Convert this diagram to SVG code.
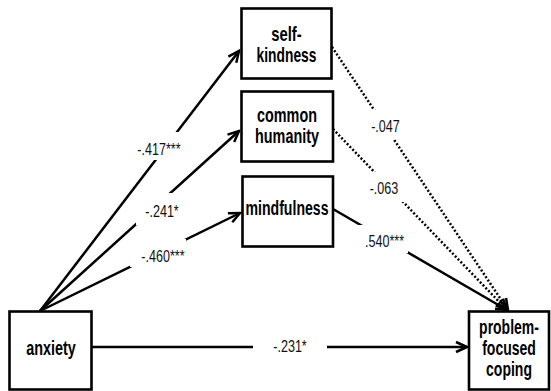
<svg xmlns="http://www.w3.org/2000/svg" width="551" height="391" viewBox="0 0 551 391">
<style>
.box{fill:#fff;stroke:#000;stroke-width:2.6}
.nt{font-family:"Liberation Sans",Arial,sans-serif;font-weight:bold;font-size:20px;fill:#000;text-anchor:middle}
.ln{fill:none;stroke:#000;stroke-width:2.5}
.dot{stroke-dasharray:2 2}
.lbl{font-family:"Liberation Sans",Arial,sans-serif;font-size:17px;fill:#111;text-anchor:middle}
.bg{fill:#fff}
</style>
<defs>
<marker id="arr" viewBox="-14 -8 16 16" markerWidth="16" markerHeight="16" refX="0" refY="0" orient="auto" markerUnits="userSpaceOnUse">
<path d="M-11,-5 L0,0 L-11,5" fill="none" stroke="#000" stroke-width="2.5"/>
</marker>
</defs>
<rect width="551" height="391" fill="#fff"/>
<g id="connectors">
<g id="e-anx-sk">
<line class="ln" x1="40" y1="311" x2="239" y2="51" marker-end="url(#arr)"/>
<rect class="bg" x="135" y="132" width="48" height="28"/>
<text class="lbl" transform="translate(159,154.5) scale(0.74,1)">-.417***</text>
</g>
<g id="e-anx-ch">
<line class="ln" x1="40" y1="311" x2="239" y2="131" marker-end="url(#arr)"/>
<rect class="bg" x="136" y="193" width="50" height="32"/>
<text class="lbl" transform="translate(162,216.5) scale(0.74,1)">-.241*</text>
</g>
<g id="e-anx-mf">
<line class="ln" x1="40" y1="311" x2="240" y2="213" marker-end="url(#arr)"/>
<rect class="bg" x="130" y="239" width="56" height="28"/>
<text class="lbl" transform="translate(163,261.5) scale(0.74,1)">-.460***</text>
</g>
<g id="e-sk-pfc">
<line class="ln dot" x1="332" y1="47" x2="508" y2="310" marker-end="url(#arr)"/>
<rect class="bg" x="368" y="110" width="34" height="29"/>
<text class="lbl" transform="translate(385.5,131.5) scale(0.74,1)">-.047</text>
</g>
<g id="e-ch-pfc">
<line class="ln dot" x1="333" y1="129" x2="507" y2="310" marker-end="url(#arr)"/>
<rect class="bg" x="366" y="172" width="40" height="30"/>
<text class="lbl" transform="translate(384,194) scale(0.74,1)">-.063</text>
</g>
<g id="e-mf-pfc">
<line class="ln" x1="333" y1="209" x2="507" y2="310" marker-end="url(#arr)"/>
<rect class="bg" x="358" y="225" width="50" height="28"/>
<text class="lbl" transform="translate(384.5,247) scale(0.74,1)">.540***</text>
</g>
<g id="e-anx-pfc">
<line class="ln" x1="92" y1="347" x2="467" y2="347" marker-end="url(#arr)"/>
<rect class="bg" x="253" y="335" width="74" height="23"/>
<text class="lbl" transform="translate(290,351.5) scale(0.74,1)">-.231*</text>
</g>
</g>
<g id="self-kindness">
<rect class="box" x="241.5" y="8.5" width="90" height="70"/>
<text class="nt" transform="translate(286.5,40.5) scale(0.74,1)">self-</text>
<text class="nt" transform="translate(286.5,61.5) scale(0.69,1)">kindness</text>
</g>
<g id="common-humanity">
<rect class="box" x="241.5" y="91.5" width="91.5" height="70"/>
<text class="nt" transform="translate(287,121.5) scale(0.72,1)">common</text>
<text class="nt" transform="translate(287,143) scale(0.72,1)">humanity</text>
</g>
<g id="mindfulness">
<rect class="box" x="242.5" y="176.5" width="90.5" height="70"/>
<text class="nt" transform="translate(287,214.5) scale(0.705,1)">mindfulness</text>
</g>
<g id="anxiety">
<rect class="box" x="9.5" y="311.5" width="82" height="78"/>
<text class="nt" transform="translate(51,354.5) scale(0.72,1)">anxiety</text>
</g>
<g id="problem-focused-coping">
<rect class="box" x="469" y="311.5" width="80" height="78"/>
<text class="nt" transform="translate(509,333.5) scale(0.7,1)">problem-</text>
<text class="nt" transform="translate(509,354.5) scale(0.7,1)">focused</text>
<text class="nt" transform="translate(509,375.5) scale(0.7,1)">coping</text>
</g>
</svg>
